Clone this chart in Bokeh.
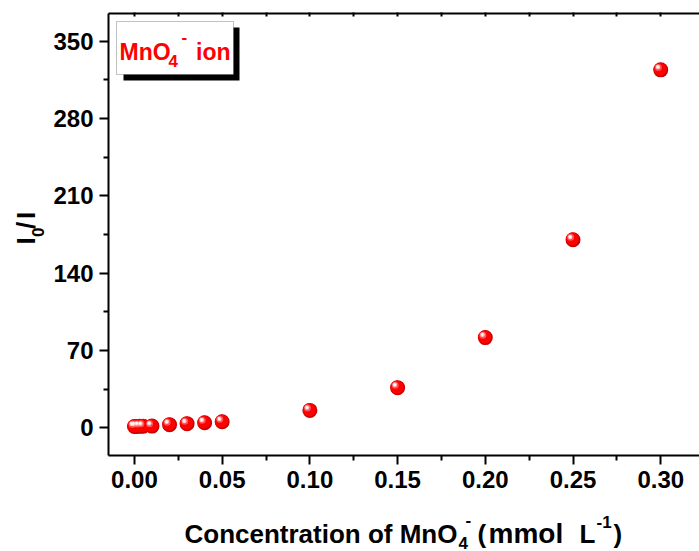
from math import pi

from bokeh.embed import file_html
from bokeh.layouts import column, row
from bokeh.models import BoxAnnotation, FixedTicker, Label, LinearAxis, Range1d
from bokeh.plotting import figure
from bokeh.resources import INLINE

# Quenching data: concentration of MnO4- (mmol/L) vs I0/I
conc = [0.0, 0.001, 0.003, 0.005, 0.01, 0.02, 0.03, 0.04, 0.05, 0.10, 0.15, 0.20, 0.25, 0.30]
ratio = [1.2, 1.3, 1.4, 1.5, 1.6, 2.9, 3.8, 4.7, 5.6, 15.8, 36.4, 81.7, 170.3, 324.0]

x_ticks = [0.00, 0.05, 0.10, 0.15, 0.20, 0.25, 0.30]
x_tick_labels = ["0.00", "0.05", "0.10", "0.15", "0.20", "0.25", "0.30"]
x_minor = [0.025, 0.075, 0.125, 0.175, 0.225, 0.275, 0.325]
y_ticks = [0, 70, 140, 210, 280, 350]
y_minor = [35, 105, 175, 245, 315]

FONT = "Liberation Sans"
W, H = 699, 551
YT_W = 50                      # strip holding the rotated y title
XT_H = 46                      # strip holding the x title
PW, PH = W - YT_W, H - XT_H    # main plot size
FL, FT, FB = 108, 13, 455      # frame left / top / bottom, page px
FW, FH = W - FL, FB - FT
SHIFT = 8                      # baseline correction for Label text, px

x0, x1 = -0.0148, 0.3221
y0, y1 = -25.0, 375.0


def xd(px):
    return x0 + (px - FL) * (x1 - x0) / FW


def yd(py):
    return y0 + (FB - py) * (y1 - y0) / FH


dxp = (x1 - x0) / FW
dyp = (y1 - y0) / FH

p = figure(width=PW, height=PH, x_range=Range1d(x0, x1), y_range=Range1d(y0, y1),
           output_backend="svg", toolbar_location=None,
           min_border_left=FL - YT_W, min_border_right=0, min_border_top=FT,
           min_border_bottom=PH - FB, x_axis_location=None, y_axis_location=None)


def clean(f):
    f.outline_line_color = None
    f.background_fill_color = "white"
    f.border_fill_color = "white"
    f.xgrid.visible = False
    f.ygrid.visible = False


clean(p)


def style_axis(ax):
    ax.axis_line_width = 2
    ax.axis_line_color = "black"
    ax.major_tick_line_width = 2
    ax.minor_tick_line_width = 2
    ax.major_label_text_font = FONT
    ax.major_label_text_font_style = "bold"
    ax.major_label_text_font_size = "24px"
    ax.major_label_text_color = "black"


xax = LinearAxis(ticker=FixedTicker(ticks=x_ticks, minor_ticks=x_minor),
                 major_label_overrides={t: s for t, s in zip(x_ticks, x_tick_labels)})
style_axis(xax)
xax.major_tick_out = 9
xax.major_tick_in = 0
xax.minor_tick_out = 5
xax.minor_tick_in = 0
xax.major_label_standoff = 6
p.add_layout(xax, "below")

yax = LinearAxis(ticker=FixedTicker(ticks=y_ticks, minor_ticks=y_minor))
style_axis(yax)
yax.major_tick_out = 9
yax.major_tick_in = 0
yax.minor_tick_out = 5
yax.minor_tick_in = 0
yax.major_label_standoff = 6
p.add_layout(yax, "left")

tax = LinearAxis(ticker=FixedTicker(ticks=x_ticks, minor_ticks=x_minor))
style_axis(tax)
tax.major_tick_in = 3
tax.major_tick_out = 1
tax.minor_tick_in = 3
tax.minor_tick_out = 1
tax.major_label_text_font_size = "0px"
tax.major_label_text_alpha = 0
tax.major_label_standoff = 0
p.add_layout(tax, "above")

# glossy red spheres, built up from layered discs
p.scatter(conc, ratio, size=15, fill_color="#C80000", line_color=None)
p.scatter([c - 0.6 * dxp for c in conc], [r + 0.6 * dyp for r in ratio],
          size=13, fill_color="#FF0000", line_color=None)
p.scatter([c - 2.4 * dxp for c in conc], [r + 2.4 * dyp for r in ratio],
          size=7, fill_color="#FF5A5A", line_color=None, fill_alpha=0.9)
p.scatter([c - 2.8 * dxp for c in conc], [r + 2.8 * dyp for r in ratio],
          size=4.5, fill_color="#FFC8C8", line_color=None)
p.scatter([c - 3.0 * dxp for c in conc], [r + 3.0 * dyp for r in ratio],
          size=2.5, fill_color="#FFFFFF", line_color=None)

# legend box with drop shadow
p.add_layout(BoxAnnotation(left=xd(123), right=xd(239), top=yd(27), bottom=yd(80),
                           fill_color="black", fill_alpha=1, line_color=None))
p.add_layout(BoxAnnotation(left=xd(116), right=xd(233), top=yd(21), bottom=yd(74),
                           fill_color="white", fill_alpha=1, line_color="#333333",
                           line_width=1))


def txt(fig, s, x, y, size, color="black", angle=0.0):
    fig.add_layout(Label(x=x, y=y, text=s, text_font=FONT,
                         text_font_style="bold", text_font_size=f"{size}px",
                         text_color=color, text_baseline="alphabetic",
                         text_align="left", angle=angle))


RED = "#FF0000"
txt(p, "MnO", xd(119), yd(59.5 - SHIFT), 23, RED)
txt(p, "4", xd(168), yd(68 - SHIFT), 17, RED)
txt(p, "-", xd(181), yd(44 - SHIFT), 17, RED)
txt(p, "ion", xd(195.5), yd(59.5 - SHIFT), 23, RED)


def strip(width, height, xr, yr):
    f = figure(width=width, height=height, x_range=Range1d(*xr), y_range=Range1d(*yr),
               output_backend="svg", toolbar_location=None,
               min_border=0, x_axis_location=None, y_axis_location=None)
    clean(f)
    return f


# x title strip: data coordinates equal page pixels
xt = strip(W, XT_H, (0, W), (H, PH))
txt(xt, "Concentration of MnO", 184, 541 - SHIFT, 26)
txt(xt, "4", 458, 550 - SHIFT, 17)
txt(xt, "-", 465, 527 - SHIFT, 17)
txt(xt, "(", 477, 541 - SHIFT, 26)
txt(xt, "mmol", 488, 541 - SHIFT, 28)
txt(xt, "L", 579, 541 - SHIFT, 26)
txt(xt, "-1", 596, 529 - SHIFT, 17)
txt(xt, ")", 613, 541 - SHIFT, 26)

# y title strip (rotated text); its frame lines up with the main frame
yt = strip(YT_W, PH, (0, YT_W), (FB, FT))
txt(yt, "I", 33 - SHIFT, 244, 26, angle=pi / 2)
txt(yt, "0", 45 - SHIFT, 236.5, 17, angle=pi / 2)
txt(yt, "/", 33 - SHIFT, 228.5, 26, angle=pi / 2)
txt(yt, "I", 33 - SHIFT, 218.5, 26, angle=pi / 2)

layout = column(row(yt, p), xt)
open("out.html", "w").write(file_html(layout, INLINE))
